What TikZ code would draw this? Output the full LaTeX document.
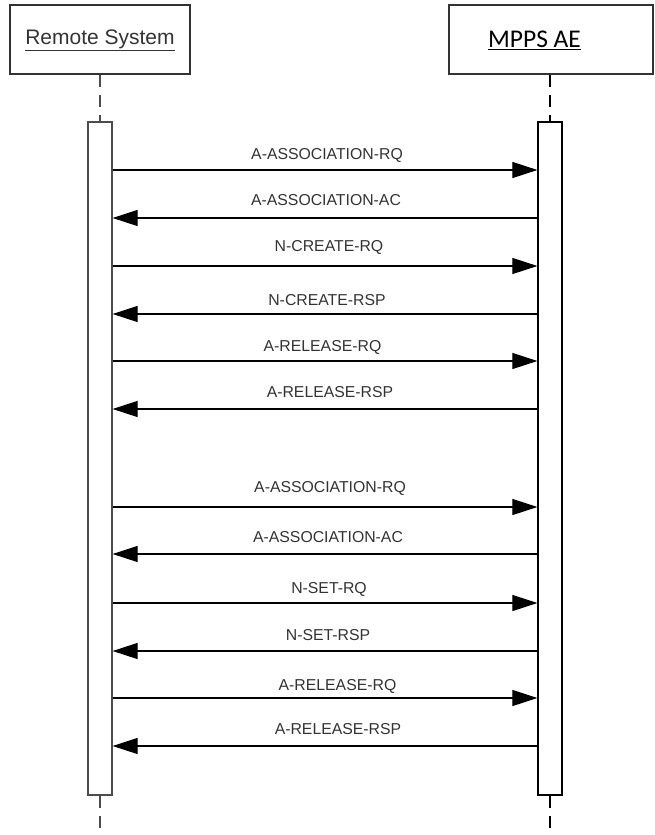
\documentclass[tikz,border=0pt]{standalone}
\usepackage{fontspec}
\setmainfont{Liberation Sans}
\newfontfamily\calfont{Carlito}
\usetikzlibrary{arrows.meta}
\tikzset{
  actor/.style={draw=black!80, line width=1.6pt, minimum height=69pt, inner sep=0pt},
  bar/.style={draw, line width=1.2pt, minimum width=24pt, minimum height=673pt, inner sep=0pt, fill=white},
  life/.style={line width=1.4pt, dash pattern=on 12pt off 8pt},
  msg/.style={line width=1.1pt, -{Triangle[length=25pt,width=16pt]}},
  lbl/.style={font=\fontsize{15.8}{18}\selectfont, text=black!80, inner sep=0pt, text height=11.3pt, text depth=0pt}
}
\begin{document}
\begin{tikzpicture}[x=1pt,y=-1pt]
\useasboundingbox (0,0) rectangle (654,835);
% actors
\node[actor, minimum width=180pt] (rs) at (100,39.5) {};
\node[font=\fontsize{21}{24}\selectfont, text=black!80] (rst) at (100,40) {\underline{Remote System}};
\node[actor, minimum width=204pt] (mp) at (551,39.5) {};
\node[font=\calfont\fontsize{25.5}{28}\selectfont] (mpt) at (534.5,40) {\underline{MPPS AE}};
% lifeline ends
\coordinate (lend) at (100,835);
\coordinate (rend) at (550,835);
% activation bars
\node[bar, draw=black!70] (la) at (100,458.5) {};
\node[bar] (ra) at (550,458.5) {};
\draw[life, draw=black!70] (rs.south -| la.north) -- (la.north);
\draw[life, draw=black!70] (la.south) -- (lend);
\draw[life] (mp.south -| ra.north) -- (ra.north);
\draw[life] (ra.south) -- (rend);
% messages
\foreach \y/\t/\d/\lx/\ly in {
  170/A-ASSOCIATION-RQ/r/327/154,
  218/A-ASSOCIATION-AC/l/326/200,
  266/N-CREATE-RQ/r/329/246,
  314/N-CREATE-RSP/l/327/300,
  361/A-RELEASE-RQ/r/322.5/346,
  409/A-RELEASE-RSP/l/330/392,
  507/A-ASSOCIATION-RQ/r/330/487,
  554/A-ASSOCIATION-AC/l/328/537,
  603/N-SET-RQ/r/329/588,
  651/N-SET-RSP/l/328/635,
  698/A-RELEASE-RQ/r/337.5/685,
  746/A-RELEASE-RSP/l/338/729}{
  \if r\d
    \draw[msg] (la.east |- 0,\y) -- (ra.west |- 0,\y);
  \else
    \draw[msg] (ra.west |- 0,\y) -- (la.east |- 0,\y);
  \fi
  \node[lbl] at (\lx,\ly) {\t};
}
\end{tikzpicture}
\end{document}
